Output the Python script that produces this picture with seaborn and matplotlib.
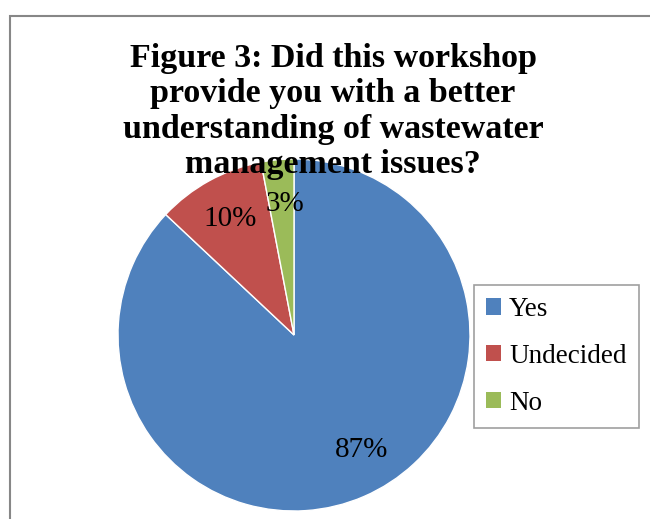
import matplotlib
matplotlib.use("Agg")
import matplotlib.pyplot as plt
import matplotlib.patches as mpatches
import numpy as np
import seaborn as sns

categories = ["Yes", "Undecided", "No"]
shares = [87, 10, 3]
pct_labels = ["87%", "10%", "3%"]
title_text = ("Figure 3: Did this workshop\nprovide you with a better\n"
              "understanding of wastewater\nmanagement issues?")

sns.set_style("white")
plt.rcParams["font.family"] = ["Liberation Serif", "DejaVu Serif"]
plt.rcParams["text.color"] = "black"
colors = ["#4F81BD", "#C0504D", "#9BBB59"]

W, H = 650, 519
fig = plt.figure(figsize=(W / 100, H / 100), dpi=100)

# outer chart frame, cut off at right and bottom like the source
fig.patches.append(mpatches.Rectangle((10 / W, -0.1), 1.2, 1 - 16 / H + 0.1,
                                      transform=fig.transFigure, fill=False,
                                      edgecolor="#878787", linewidth=1.5))

cx, cy, r = 294, 335, 176
ax = fig.add_axes([(cx - r) / W, (H - cy - r) / H, 2 * r / W, 2 * r / H])
wedges, texts = ax.pie(shares, colors=colors, startangle=90, counterclock=False,
                       radius=1, wedgeprops=dict(edgecolor="white", linewidth=1))
ax.set_xlim(-1, 1)
ax.set_ylim(-1, 1)
ax.axis("off")

# percentage labels (Excel nudges the big slice's label a bit off its middle)
dists = [0.76, 0.755, 0.745]
nudge = [7, 0, -1.5]
for w, lab, d, n in zip(wedges, pct_labels, dists, nudge):
    ang = np.deg2rad((w.theta1 + w.theta2) / 2 + n)
    ax.text(d * np.cos(ang), d * np.sin(ang), lab, ha="center", va="center",
            fontsize=21, color="black")

fig.text(333 / W, 1 - 43 / H, title_text, ha="center", va="top",
         fontsize=24.5, fontweight="bold", linespacing=1.18, color="black")

handles = [mpatches.Patch(facecolor=c, edgecolor="none") for c in colors]
leg = fig.legend(handles, categories, loc="upper left",
                 bbox_to_anchor=(474 / W, 1 - 285 / H), borderaxespad=0,
                 fontsize=19.5, frameon=True, fancybox=False, edgecolor="#878787",
                 handlelength=0.55, handleheight=0.55, handletextpad=0.3,
                 labelspacing=0.8, borderpad=0.45)
leg.get_frame().set_linewidth(1.2)
for t in leg.get_texts():
    t.set_color("black")

fig.savefig("out.png", dpi=100)
